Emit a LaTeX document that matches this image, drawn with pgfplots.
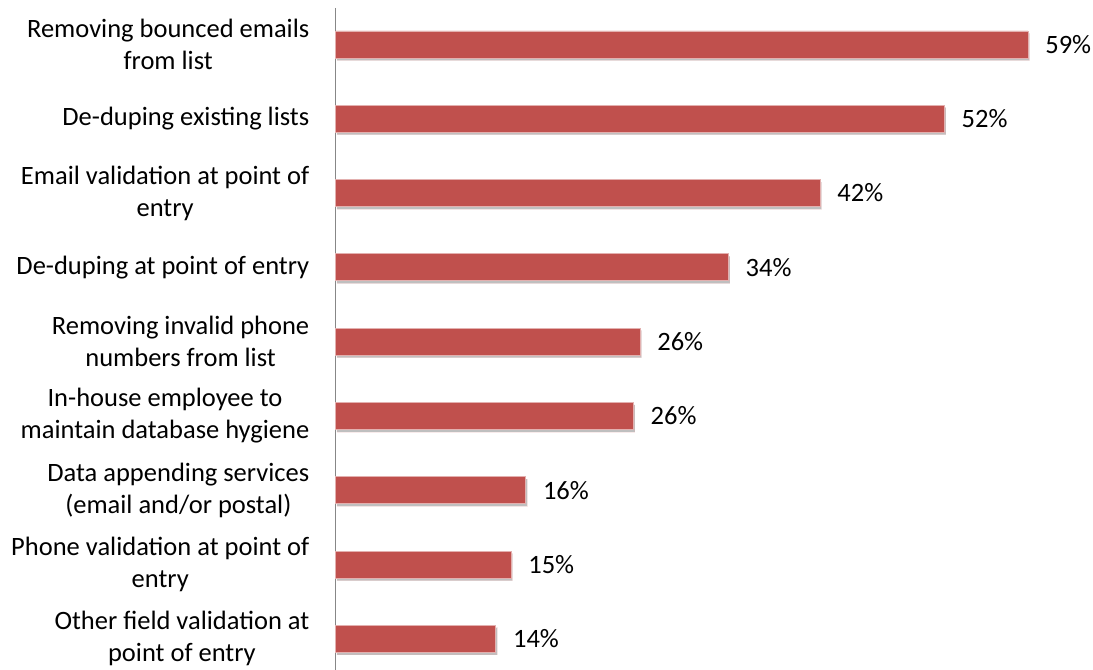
\documentclass[border=0pt]{standalone}
\usepackage{pgfplots}
\pgfplotsset{compat=1.18}
\usepackage{fontspec}
\setmainfont{Carlito}
\usetikzlibrary{shadows}
\definecolor{barred}{HTML}{C0504D}
\begin{document}
\begin{tikzpicture}
\useasboundingbox (-335.5bp,0) rectangle (757.5bp,670bp);
\begin{axis}[
  at={(0,0)}, anchor=south west,
  scale only axis,
  width=757.5bp, height=662bp,
  xbar, bar width=27bp,
  xmin=0, xmax=64.54,
  ymin=-0.49, ymax=8.42,
  y dir=reverse,
  clip=false,
  axis x line=none,
  axis y line=left,
  y axis line style={-, draw=black!47, line width=1.5bp},
  ytick={0,...,8},
  ytick style={draw=none},
  major tick length=0pt,
  yticklabels={{Removing bounced emails\\from list},
    {De-duping existing lists},
    {Email validation at point of\\entry},
    {De-duping at point of entry},
    {Removing invalid phone\\numbers from list},
    {In-house employee to\\maintain database hygiene},
    {Data appending services\\(email and/or postal)},
    {Phone validation at point of\\entry},
    {Other field validation at\\point of entry}},
  yticklabel style={align=center, anchor=east, inner sep=0pt, xshift=-26bp,
    font=\fontsize{26.5bp}{32bp}\selectfont},
  point meta=explicit symbolic,
  nodes near coords,
  nodes near coords style={anchor=west, inner sep=0pt, xshift=17bp,
    font=\fontsize{26.5bp}{32bp}\selectfont, text=black},
]
\addplot[fill=barred, draw=white!55!barred, line width=0.8bp,
  drop shadow={shadow xshift=1.5bp, shadow yshift=-2.5bp, opacity=0.25, fill=black}]
  coordinates {
  (59,0) [59\%]
  (51.87,1) [52\%]
  (41.28,2) [42\%]
  (33.47,3) [34\%]
  (25.94,4) [26\%]
  (25.37,5) [26\%]
  (16.2,6) [16\%]
  (14.95,7) [15\%]
  (13.65,8) [14\%]
};
\end{axis}
\end{tikzpicture}
\end{document}
